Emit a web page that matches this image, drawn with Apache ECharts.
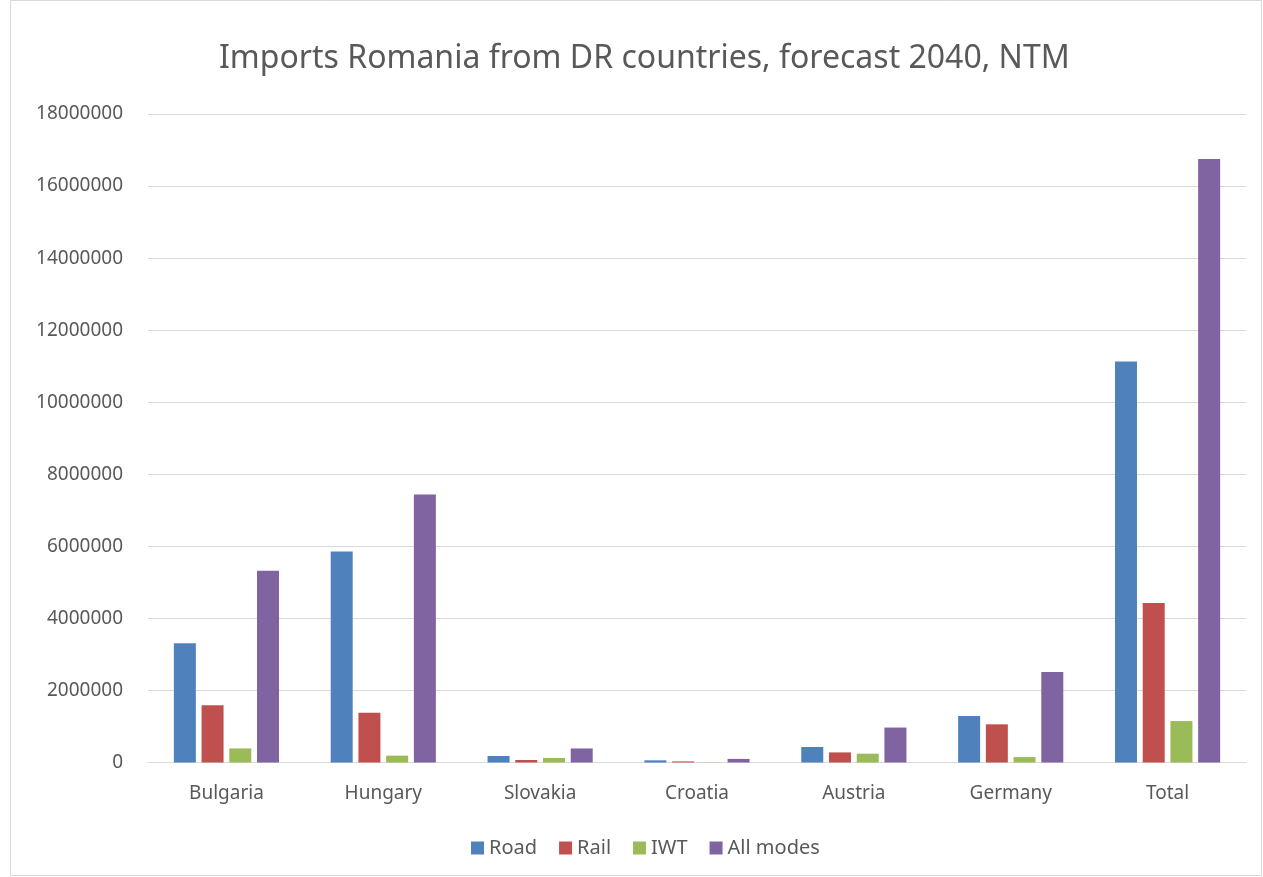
<!DOCTYPE html>
<html>
<head>
<meta charset="utf-8">
<script src="https://cdn.jsdelivr.net/npm/echarts@6/dist/echarts.min.js"></script>
<style>html,body{margin:0;padding:0;background:#fff;}#c{width:1263px;height:877px;}</style>
</head>
<body>
<div id="c"></div>
<script>
const categories = ['Bulgaria', 'Hungary', 'Slovakia', 'Croatia', 'Austria', 'Germany', 'Total'];
const road = [3310000, 5860000, 180000, 60000, 430000, 1290000, 11130000];
const rail = [1590000, 1380000, 70000, 30000, 280000, 1060000, 4430000];
const iwt = [390000, 190000, 125000, 5000, 245000, 150000, 1150000];
const allModes = [5320000, 7440000, 390000, 100000, 970000, 2510000, 16750000];
const seriesNames = ['Road', 'Rail', 'IWT', 'All modes'];
const colors = ['#4F81BD', '#C0504D', '#9BBB59', '#8064A2'];

const chart = echarts.init(document.getElementById('c'), null, {renderer: 'canvas'});
const font = 'Noto Sans';
const dataSets = [road, rail, iwt, allModes];
chart.setOption({
  animation: false,
  color: colors,
  title: {
    text: 'Imports Romania from DR countries, forecast 2040, NTM',
    left: 214, top: 38,
    textStyle: {fontFamily: font, fontSize: 32, fontWeight: 'normal', color: '#595959'}
  },
  graphic: [{
    type: 'rect', shape: {x: 10.5, y: 0.5, width: 1251, height: 875},
    style: {fill: 'none', stroke: '#d9d9d9', lineWidth: 1}, silent: true, z: -1
  }],
  legend: {
    data: seriesNames, bottom: 14, left: 466,
    itemWidth: 13, itemHeight: 13, itemGap: 22, icon: 'rect',
    textStyle: {fontFamily: font, fontSize: 20, color: '#595959'}
  },
  grid: {left: 148, right: 17, top: 114, bottom: 114.5, containLabel: false},
  xAxis: {
    type: 'category', data: categories,
    axisLine: {lineStyle: {color: '#d9d9d9', width: 1}},
    axisTick: {show: false},
    axisLabel: {fontFamily: font, fontSize: 19, color: '#595959', margin: 22}
  },
  yAxis: {
    type: 'value', min: 0, max: 18000000, interval: 2000000,
    axisLine: {show: false}, axisTick: {show: false},
    splitLine: {lineStyle: {color: '#d9d9d9', width: 1}},
    axisLabel: {fontFamily: font, fontSize: 19, color: '#595959', margin: 25,
      formatter: v => String(v)}
  },
  series: seriesNames.map((n, i) => ({
    name: n, type: 'bar', data: dataSets[i],
    barWidth: 22, barGap: '26%'
  }))
});
</script>
</body>
</html>
